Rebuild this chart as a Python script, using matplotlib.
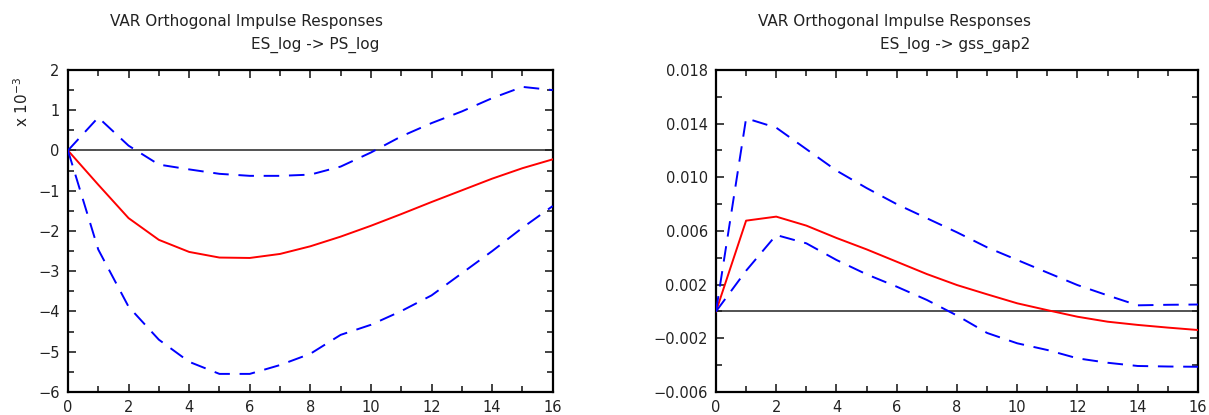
import numpy as np
import matplotlib.pyplot as plt
from matplotlib.ticker import MultipleLocator, FixedLocator

# horizon
steps = np.arange(17)

# left panel: ES_log -> PS_log (units of 1e-3)
ps_irf = [0, -0.85, -1.68, -2.22, -2.52, -2.66, -2.67, -2.57, -2.38, -2.14,
          -1.87, -1.58, -1.28, -0.99, -0.70, -0.44, -0.22]
ps_upper = [0, 0.82, 0.12, -0.35, -0.47, -0.58, -0.63, -0.63, -0.60, -0.40,
            -0.05, 0.35, 0.68, 0.97, 1.30, 1.58, 1.50]
ps_lower = [0, -2.46, -3.88, -4.70, -5.25, -5.55, -5.55, -5.33, -5.05, -4.58,
            -4.33, -3.99, -3.60, -3.05, -2.50, -1.92, -1.38]

# right panel: ES_log -> gss_gap2
gap_irf = [0, 0.00677, 0.00707, 0.00640, 0.00548, 0.00463, 0.00371, 0.00279,
           0.00197, 0.00128, 0.00061, 0.00010, -0.00039, -0.00076, -0.00100,
           -0.00120, -0.00138]
gap_upper = [0, 0.01440, 0.01370, 0.01210, 0.01050, 0.00920, 0.00800, 0.00695,
             0.00590, 0.00478, 0.00384, 0.00290, 0.00197, 0.00120, 0.00046,
             0.00050, 0.00052]
gap_lower = [0, 0.00304, 0.00570, 0.00508, 0.00384, 0.00277, 0.00185, 0.00086,
             -0.00030, -0.00160, -0.00237, -0.00287, -0.00349, -0.00382,
             -0.00406, -0.00410, -0.00412]

plt.rcParams['font.family'] = 'DejaVu Sans'
plt.rcParams['axes.unicode_minus'] = True

fig = plt.figure(figsize=(12.09, 4.15), dpi=100)
ax1 = fig.add_axes([0.0562, 0.0554, 0.401, 0.776])
ax2 = fig.add_axes([0.5922, 0.0554, 0.3987, 0.776])

dash = (0, (8, 5))


def style(ax):
    ax.axhline(0, color='#444444', lw=1.3, zorder=1)
    ax.set_xlim(0, 16)
    ax.xaxis.set_major_locator(MultipleLocator(2))
    ax.xaxis.set_minor_locator(MultipleLocator(1))
    ax.tick_params(which='both', direction='in', top=True, right=True,
                   labelsize=10.5, colors='#222222', width=1.2)
    ax.tick_params(which='major', length=6, pad=6)
    ax.tick_params(which='minor', length=4)
    for s in ax.spines.values():
        s.set_linewidth(1.6)
        s.set_color('black')


ax1.plot(steps, ps_irf, color='red', lw=1.4, zorder=3)
ax1.plot(steps, ps_upper, color='blue', lw=1.4, ls=dash, zorder=3)
ax1.plot(steps, ps_lower, color='blue', lw=1.4, ls=dash, zorder=3)
style(ax1)
ax1.set_ylim(-6, 2)
ax1.yaxis.set_major_locator(MultipleLocator(1))
ax1.yaxis.set_minor_locator(MultipleLocator(0.5))
ax1.yaxis.set_major_formatter(lambda v, p: f"{v:.0f}".replace('-', '\u2212'))
fig.text(0.018, 0.755, 'x 10$^{-3}$', rotation=90, ha='center', va='center',
         fontsize=11, color='#222222')

ax2.plot(steps, gap_irf, color='red', lw=1.4, zorder=3)
ax2.plot(steps, gap_upper, color='blue', lw=1.4, ls=dash, zorder=3)
ax2.plot(steps, gap_lower, color='blue', lw=1.4, ls=dash, zorder=3)
style(ax2)
ax2.set_ylim(-0.006, 0.018)
ax2.yaxis.set_major_locator(FixedLocator(np.arange(-0.006, 0.0181, 0.004)))
ax2.yaxis.set_minor_locator(FixedLocator(np.arange(-0.006, 0.0181, 0.002)))
ax2.yaxis.set_major_formatter(lambda v, p: f"{v:.3f}".replace('-', '\u2212'))

title_kw = dict(fontsize=11, color='#222222', va='center')
fig.text(0.091, 0.947, 'VAR Orthogonal Impulse Responses', ha='left', **title_kw)
fig.text(0.261, 0.892, 'ES_log -> PS_log', ha='center', **title_kw)
fig.text(0.627, 0.947, 'VAR Orthogonal Impulse Responses', ha='left', **title_kw)
fig.text(0.790, 0.892, 'ES_log -> gss_gap2', ha='center', **title_kw)

fig.savefig('out.png', dpi=100)
